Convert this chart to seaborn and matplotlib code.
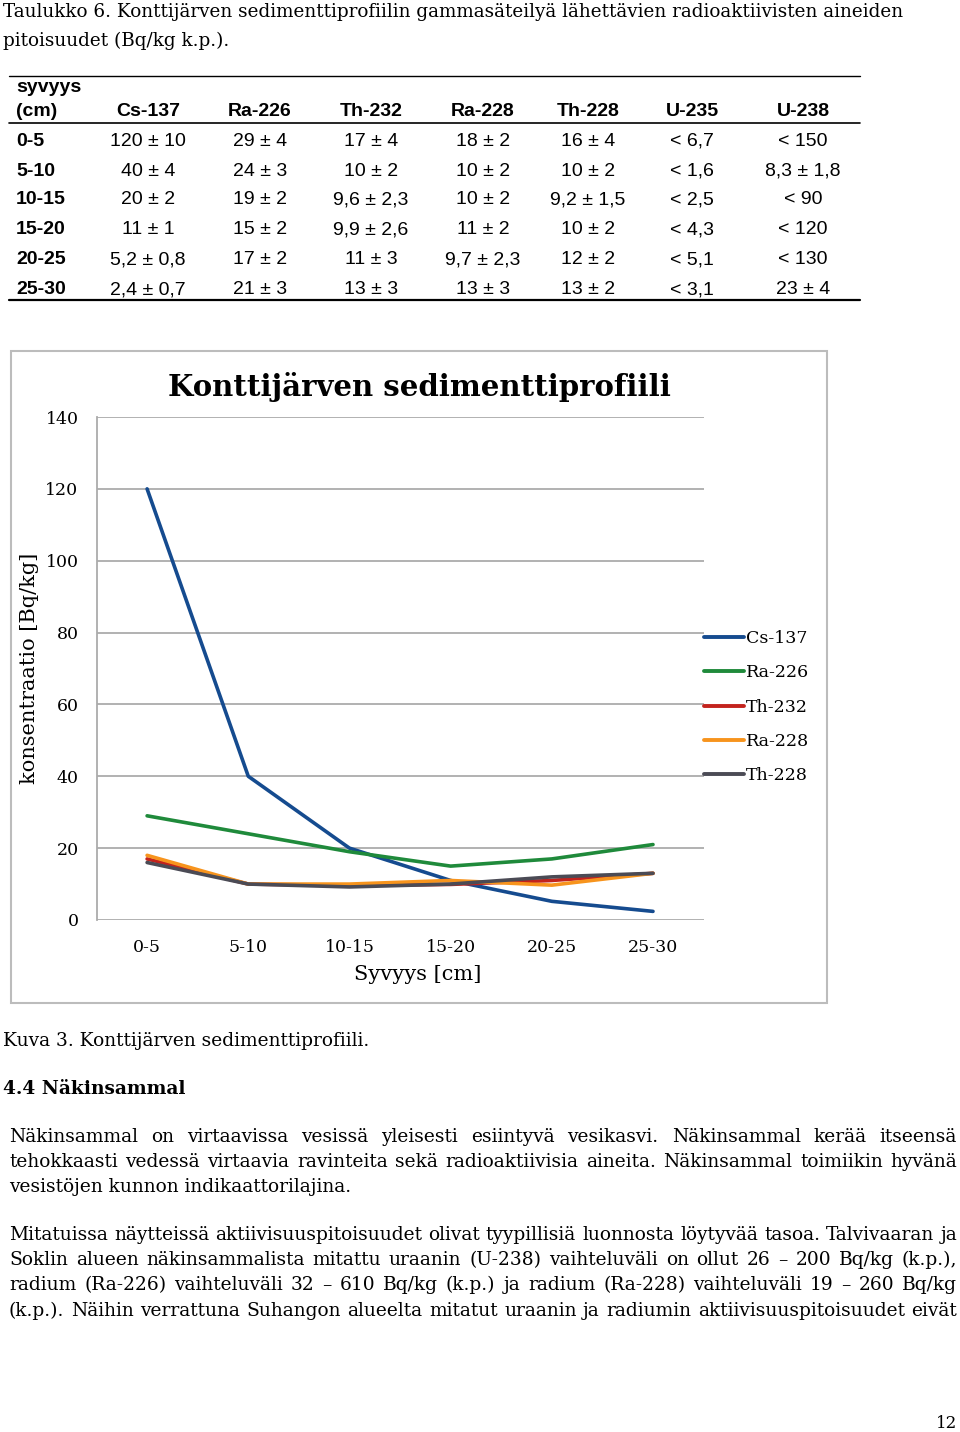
import pandas as pd
import matplotlib
matplotlib.use("Agg")
import matplotlib.pyplot as plt
from matplotlib.lines import Line2D
from matplotlib.patches import Rectangle
import seaborn as sns

# ---- data ----
depths = ["0-5", "5-10", "10-15", "15-20", "20-25", "25-30"]
cs137 = [120, 40, 20, 11, 5.2, 2.4]
ra226 = [29, 24, 19, 15, 17, 21]
th232 = [17, 10, 9.6, 9.9, 11, 13]
ra228 = [18, 10, 10, 11, 9.7, 13]
th228 = [16, 10, 9.2, 10, 12, 13]
series_names = ["Cs-137", "Ra-226", "Th-232", "Ra-228", "Th-228"]
series_colors = ["#154b8f", "#1f8a3b", "#c3231d", "#f7941d", "#4b4b55"]

table_header = ["Cs-137", "Ra-226", "Th-232", "Ra-228", "Th-228", "U-235", "U-238"]
table_rows = [
    ["120 ± 10", "29 ± 4", "17 ± 4", "18 ± 2", "16 ± 4", "< 6,7", "< 150"],
    ["40 ± 4", "24 ± 3", "10 ± 2", "10 ± 2", "10 ± 2", "< 1,6", "8,3 ± 1,8"],
    ["20 ± 2", "19 ± 2", "9,6 ± 2,3", "10 ± 2", "9,2 ± 1,5", "< 2,5", "< 90"],
    ["11 ± 1", "15 ± 2", "9,9 ± 2,6", "11 ± 2", "10 ± 2", "< 4,3", "< 120"],
    ["5,2 ± 0,8", "17 ± 2", "11 ± 3", "9,7 ± 2,3", "12 ± 2", "< 5,1", "< 130"],
    ["2,4 ± 0,7", "21 ± 3", "13 ± 3", "13 ± 3", "13 ± 2", "< 3,1", "23 ± 4"],
]

caption_lines = [
    "Taulukko 6. Konttijärven sedimenttiprofiilin gammasäteilyä lähettävien radioaktiivisten aineiden",
    "pitoisuudet (Bq/kg k.p.).",
]
para1 = [
    ("Näkinsammal on virtaavissa vesissä yleisesti esiintyvä vesikasvi. Näkinsammal kerää itseensä", True),
    ("tehokkaasti vedessä virtaavia ravinteita sekä radioaktiivisia aineita. Näkinsammal toimiikin hyvänä", True),
    ("vesistöjen kunnon indikaattorilajina.", False),
]
para2 = [
    ("Mitatuissa näytteissä aktiivisuuspitoisuudet olivat tyypillisiä luonnosta löytyvää tasoa. Talvivaaran ja", True),
    ("Soklin alueen näkinsammalista mitattu uraanin (U-238) vaihteluväli on ollut 26 – 200 Bq/kg (k.p.),", True),
    ("radium (Ra-226) vaihteluväli 32 – 610 Bq/kg (k.p.) ja radium (Ra-228) vaihteluväli 19 – 260 Bq/kg", True),
    ("(k.p.). Näihin verrattuna Suhangon alueelta mitatut uraanin ja radiumin aktiivisuuspitoisuudet eivät", True),
]

W, H = 960, 1432
SERIF = ["DejaVu Serif"]
SANS = ["Liberation Sans", "DejaVu Sans"]
BODY = 13.4


def fx(x):
    return x / W


def fy(y):
    return 1 - y / H


def put(fig, x, y, s, **kw):
    kw.setdefault("va", "center")
    return fig.text(fx(x), fy(y), s, **kw)


def hline(fig, x0, x1, y, lw):
    fig.add_artist(Line2D([fx(x0), fx(x1)], [fy(y), fy(y)], color="black", lw=lw,
                          transform=fig.transFigure))


def justified(fig, renderer, text, x0, x1, y, justify, **kw):
    # spread words between x0 and x1 like a justified paragraph line
    words = text.split(" ")
    if not justify:
        put(fig, x0, y, text, **kw)
        return
    arts = [put(fig, 0, y, w, **kw) for w in words]
    widths = [a.get_window_extent(renderer).width for a in arts]
    gap = (x1 - x0 - sum(widths)) / (len(words) - 1)
    x = x0
    for a, wdt in zip(arts, widths):
        a.set_x(fx(x))
        x += wdt + gap


def main():
    sns.set_theme(style="white")
    plt.rcParams["font.family"] = SERIF
    plt.rcParams["text.color"] = "black"

    fig = plt.figure(figsize=(W / 100, H / 100), dpi=100)
    renderer = fig.canvas.get_renderer()

    # caption above table
    put(fig, 3, 12, caption_lines[0], fontsize=13.2)
    put(fig, 3, 41, caption_lines[1], fontsize=13.2)

    # table
    hline(fig, 9, 860, 76, 1.0)
    hline(fig, 9, 860, 123, 1.2)
    hline(fig, 9, 860, 300, 1.6)
    col_x = [148, 260, 371, 483, 588, 692, 803]
    row_y = [141, 171, 200, 230, 260, 290]
    put(fig, 16, 88, "syvyys", fontsize=14, weight="bold", family=SANS)
    put(fig, 16, 111, "(cm)", fontsize=14, weight="bold", family=SANS)
    for cx, h in zip(col_x, table_header):
        put(fig, cx, 111, h, fontsize=14, weight="bold", family=SANS, ha="center")
    for ry, d, row in zip(row_y, depths, table_rows):
        put(fig, 16, ry, d, fontsize=14, weight="bold", family=SANS)
        for cx, v in zip(col_x, row):
            put(fig, cx, ry, v, fontsize=14, family=SANS, ha="center")

    # chart frame
    fig.add_artist(Rectangle((fx(11), fy(1003)), fx(827) - fx(11), fy(351) - fy(1003),
                             fill=False, edgecolor="#bcbcbc", lw=1.5,
                             transform=fig.transFigure))

    # chart
    ax = fig.add_axes([fx(96.5), fy(920), fx(703.6) - fx(96.5), fy(417) - fy(920)])
    long = pd.DataFrame({
        "depth": depths * 5,
        "value": cs137 + ra226 + th232 + ra228 + th228,
        "series": [n for n in series_names for _ in depths],
    })
    sns.lineplot(data=long, x="depth", y="value", hue="series", hue_order=series_names,
                 palette=series_colors, linewidth=2.6, sort=False, ax=ax, legend=False)
    ax.set_xlim(-0.5, 5.5)
    ax.set_ylim(0, 140)
    ax.set_yticks(range(0, 141, 20))
    ax.grid(axis="y", color="#ababab", lw=1.3)
    ax.set_axisbelow(True)
    for side in ["top", "right", "bottom"]:
        ax.spines[side].set_visible(False)
    ax.spines["left"].set_color("#ababab")
    ax.spines["left"].set_linewidth(1.3)
    ax.tick_params(axis="both", length=0, labelsize=12.5, colors="black")
    ax.tick_params(axis="y", pad=13)
    ax.tick_params(axis="x", pad=14)
    ax.set_xlabel("")
    ax.set_ylabel("")
    fig.text(fx(418), fy(975), "Syvyys [cm]", fontsize=15, ha="center", va="center")
    fig.text(fx(30), fy(668), "konsentraatio [Bq/kg]", rotation=90, fontsize=15,
             ha="center", va="center")
    fig.text(fx(419), fy(387), "Konttijärven sedimenttiprofiili", fontsize=21,
             weight="bold", ha="center", va="center")

    handles = [Line2D([], [], color=c, lw=2.8) for c in series_colors]
    fig.legend(handles, series_names, loc="upper left",
               bbox_to_anchor=(fx(697), fy(623)), frameon=False, fontsize=12.5,
               handlelength=2.3, handletextpad=0.1, labelspacing=1.0, borderaxespad=0)

    # text below chart
    put(fig, 3, 1041, "Kuva 3. Konttijärven sedimenttiprofiili.", fontsize=BODY)
    put(fig, 3, 1089, "4.4 Näkinsammal", fontsize=BODY, weight="bold")
    for (line, j), y in zip(para1, [1137, 1162, 1187]):
        justified(fig, renderer, line, 9, 957, y, j, fontsize=BODY)
    for (line, j), y in zip(para2, [1235, 1260, 1285, 1311]):
        justified(fig, renderer, line, 9, 957, y, j, fontsize=BODY)
    put(fig, 957, 1424, "12", fontsize=12, ha="right")

    fig.savefig("out.png", dpi=100)


if __name__ == "__main__":
    main()
